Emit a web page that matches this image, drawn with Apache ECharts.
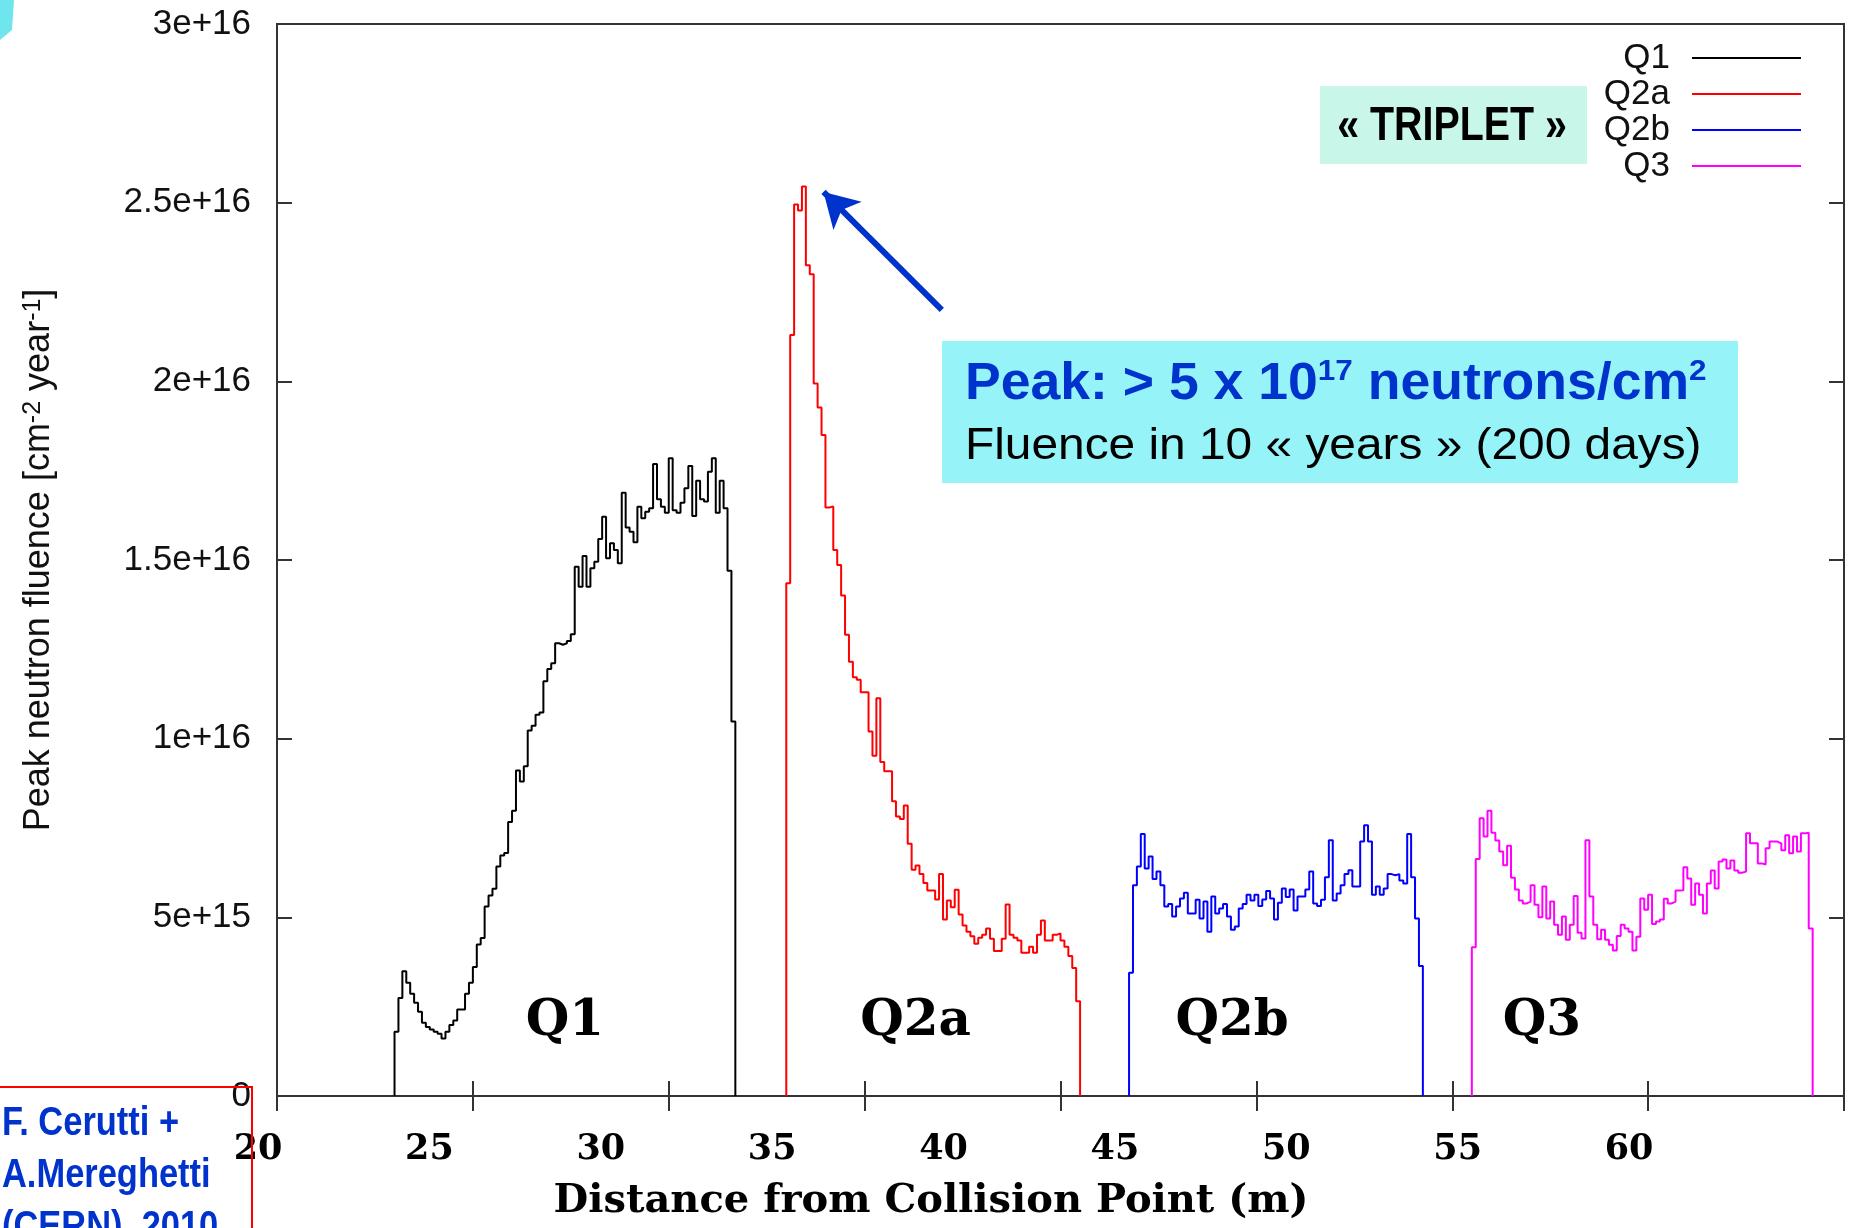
<!DOCTYPE html>
<html><head><meta charset="utf-8">
<script src="https://cdn.jsdelivr.net/npm/echarts@6/dist/echarts.min.js"></script>
<style>html,body{margin:0;padding:0;background:#fff}#c{width:1854px;height:1228px}</style>
</head><body><div id="c"></div>
<script>
// ---------- data (fluence in units of 1e15 cm^-2 year^-1, x in metres) ----------
const magnetNames = ['Q1', 'Q2a', 'Q2b', 'Q3'];
const binWidth = 0.1;
const q1Start = 23.0;
const q1Values = [1.80, 2.74, 3.49, 3.17, 2.86, 2.61, 2.36, 2.05, 1.93, 1.86,
  1.80, 1.74, 1.61, 1.80, 1.99, 2.11, 2.42, 2.42, 2.86, 3.17,
  3.61, 4.24, 4.42, 5.30, 5.61, 5.80, 6.42, 6.73, 6.80, 7.67,
  7.98, 9.11, 8.80, 9.23, 10.23, 10.36, 10.67, 10.73, 11.61, 11.95,
  12.11, 12.67, 12.63, 12.67, 12.73, 12.92,
  14.81, 14.25, 15.11, 14.25, 14.77, 14.95, 15.59, 16.21, 15.05, 15.47,
  15.28, 14.91, 16.88, 15.91, 15.79, 15.50, 16.49, 16.17, 16.35, 16.45,
  17.69, 16.70, 16.49, 16.32, 17.85, 16.39, 16.32, 16.60, 17.01, 17.63,
  16.23, 17.22, 16.70, 16.64, 17.47, 17.85, 16.32, 17.22, 16.45, 14.70,
  10.48];
const q2aStart = 33.0;
const q2aValues = [14.35, 21.30, 24.95, 24.78, 25.45, 23.25, 23.0, 19.94, 19.27, 18.50,
  16.47, 16.5, 15.28, 14.86, 14.01, 12.91, 12.15, 11.72, 11.65, 11.30,
  11.30, 10.20, 9.52, 11.13, 9.35, 9.09, 9.09, 8.25, 7.82, 7.75,
  8.13, 7.06, 6.33, 6.45, 6.21, 5.96, 5.75, 5.75, 5.50, 6.21,
  4.94, 5.47, 5.28, 5.77, 5.08, 4.77, 4.60, 4.47, 4.26, 4.43,
  4.51, 4.69, 4.40, 4.06, 4.06, 4.40, 5.36, 4.51, 4.43, 4.35,
  4.01, 4.01, 4.18, 4.01, 4.51, 4.91, 4.35, 4.35, 4.51, 4.55,
  4.35, 4.18, 3.92, 3.58, 2.65];
const q2bStart = 41.75;
const q2bValues = [3.45, 5.90, 6.42, 7.33, 6.37, 6.70, 6.07, 6.28, 5.90, 5.30,
  5.37, 5.02, 5.30, 5.53, 5.69, 5.11, 5.11, 5.49, 4.97, 5.44,
  4.60, 5.58, 5.11, 5.25, 5.37, 5.02, 4.65, 4.74, 5.25, 5.37,
  5.63, 5.47, 5.63, 5.32, 5.50, 5.74, 5.53, 4.94, 5.41, 5.81,
  5.57, 5.78, 5.19, 5.58, 5.58, 5.78, 6.28, 5.39, 5.32, 5.49,
  6.12, 7.16, 5.47, 5.67, 5.90, 6.21, 6.32, 5.86, 5.86, 7.12,
  7.58, 7.12, 5.63, 5.86, 5.63, 5.81, 6.21, 6.18, 6.21, 6.03,
  5.95, 7.33, 6.12, 4.97, 3.64];
const q3Start = 50.5;
const q3Values = [4.16, 6.63, 7.77, 7.26, 7.98, 7.37, 7.15, 6.84, 6.46, 7.00,
  6.11, 5.78, 5.47, 5.39, 5.44, 5.90, 5.35, 5.00, 5.86, 4.97,
  5.44, 4.79, 4.51, 5.02, 4.37, 4.79, 5.60, 4.57, 4.41, 7.16,
  5.58, 4.79, 4.39, 4.65, 4.37, 4.23, 4.07, 4.48, 4.79, 4.69,
  4.60, 4.07, 4.46, 5.53, 5.21, 5.63, 4.81, 4.88, 4.94, 5.52,
  5.39, 5.44, 5.75, 5.76, 6.40, 6.09, 5.35, 5.95, 5.63, 5.11,
  5.95, 6.31, 5.81, 6.56, 6.62, 6.37, 6.59, 6.31, 6.25, 6.28,
  7.35, 7.07, 7.07, 6.51, 6.48, 6.93, 7.12, 7.12, 7.07, 6.88,
  7.30, 6.79, 7.26, 6.84, 7.35, 7.37, 4.69];
const xTickLabels = ['20', '25', '30', '35', '40', '45', '50', '55', '60'];
const yTickLabels = ['0', '5e+15', '1e+16', '1.5e+16', '2e+16', '2.5e+16', '3e+16'];
// annotation anchors (data coordinates)
const labelAnchors = [[27.35, 2.07], [36.3, 2.07], [44.38, 2.07], [52.29, 2.07]];
const arrowFrom = [36.97, 22.0];
const arrowTo = [33.95, 25.3];

// ---------- styles ----------
const colors = ['#000000', '#ff0000', '#0000ff', '#ff00ff'];
const axisColor = '#333333';
const sans = '"Liberation Sans", Arial, sans-serif';
const serif = '"DejaVu Serif", serif';
const annBlue = '#0033cc';

function histSteps(start, vals) {
  const pts = [[start, 0]];
  vals.forEach((v, i) => pts.push([+(start + i * binWidth).toFixed(3), v]));
  const end = +(start + vals.length * binWidth).toFixed(3);
  pts.push([end, vals[vals.length - 1]]);
  pts.push([end, 0]);
  return pts;
}
const starts = [q1Start, q2aStart, q2bStart, q3Start];
const valueSets = [q1Values, q2aValues, q2bValues, q3Values];

const series = magnetNames.map((name, k) => {
  const s = {
    name, type: 'line', step: 'end', symbol: 'none', xAxisIndex: 0, yAxisIndex: 0,
    data: histSteps(starts[k], valueSets[k]),
    lineStyle: { color: colors[k], width: 2 }, itemStyle: { color: colors[k] },
    silent: true, z: 3,
    markPoint: {
      symbol: 'rect', symbolSize: 0, silent: true, animation: false,
      data: [{ coord: labelAnchors[k], name }],
      label: { show: true, position: 'inside', formatter: name, color: '#000',
        fontFamily: serif, fontWeight: 'bold', fontSize: 50 }
    }
  };
  if (k === 1) {
    s.markLine = {
      silent: true, animation: false, symbol: ['none', 'arrow'], symbolSize: [30, 34],
      lineStyle: { color: annBlue, width: 6, type: 'solid' }, label: { show: false },
      data: [[{ coord: arrowFrom }, { coord: arrowTo }]]
    };
  }
  return s;
});
series.push({ type: 'line', xAxisIndex: 2, yAxisIndex: 2, data: [], silent: true });

const chart = echarts.init(document.getElementById('c'), null, { renderer: 'canvas' });
const tickStyle = { color: axisColor, width: 2 };
const narrowText = (text, x, y, size, fill, align, sx) => ({
  type: 'text', x, y, z: 11, silent: true, scaleX: sx,
  style: { text, fill, font: 'bold ' + size + 'px ' + sans, align, verticalAlign: 'middle' }
});
chart.setOption({
  animation: false,
  backgroundColor: '#ffffff',
  grid: [
    { left: 277, right: 10, top: 24, bottom: 132, show: true, borderColor: axisColor, borderWidth: 2,
      containLabel: false, outerBoundsMode: 'none' },
    { left: 258, right: 225, top: 24, bottom: 132, show: false, containLabel: false, outerBoundsMode: 'none' }
  ],
  xAxis: [
    { gridIndex: 0, type: 'value', min: 20, max: 60, interval: 5, position: 'bottom',
      axisLine: { show: true, lineStyle: tickStyle }, axisTick: { show: true, inside: true, length: 15, lineStyle: tickStyle },
      axisLabel: { show: false }, splitLine: { show: false } },
    { gridIndex: 0, type: 'value', min: 20, max: 60, interval: 5, position: 'top',
      axisLine: { show: true, lineStyle: tickStyle }, axisTick: { show: true, inside: true, length: 15, lineStyle: tickStyle },
      axisLabel: { show: false }, splitLine: { show: false } },
    { gridIndex: 1, type: 'value', min: 20, max: 60, interval: 5, position: 'bottom',
      axisLine: { show: false }, axisTick: { show: false }, splitLine: { show: false },
      axisLabel: { show: true, showMinLabel: true, showMaxLabel: true, margin: 54, verticalAlign: 'middle',
        formatter: v => xTickLabels[Math.round((v - 20) / 5)],
        fontFamily: serif, fontWeight: 'bold', fontSize: 35, color: '#000' },
      name: 'Distance from Collision Point (m)', nameLocation: 'middle', nameGap: 106, nameMoveOverlap: false,
      nameTextStyle: { fontFamily: serif, fontWeight: 'bold', fontSize: 40, color: '#000',
        verticalAlign: 'middle', padding: [0, 25, 0, 0] } }
  ],
  yAxis: [
    { gridIndex: 0, type: 'value', min: 0, max: 30, interval: 5, position: 'left',
      axisLine: { show: true, lineStyle: tickStyle }, axisTick: { show: true, inside: true, length: 15, lineStyle: tickStyle },
      splitLine: { show: false },
      axisLabel: { show: true, showMinLabel: true, showMaxLabel: true, margin: 26,
        formatter: v => yTickLabels[Math.round(v / 5)], fontFamily: sans, fontSize: 35, color: '#111' },
      name: 'Peak neutron fluence [cm{sup|-2} year{sup|-1}]', nameLocation: 'middle', nameGap: 220, nameMoveOverlap: false,
      nameTextStyle: { fontFamily: sans, fontSize: 36, color: '#111',
        rich: { sup: { fontFamily: sans, fontSize: 25, lineHeight: 25, verticalAlign: 'top', color: '#111' } } } },
    { gridIndex: 0, type: 'value', min: 0, max: 30, interval: 5, position: 'right',
      axisLine: { show: true, lineStyle: tickStyle }, axisTick: { show: true, inside: true, length: 15, lineStyle: tickStyle },
      axisLabel: { show: false }, splitLine: { show: false } },
    { gridIndex: 1, type: 'value', min: 0, max: 1, show: false }
  ],
  legend: {
    data: magnetNames, orient: 'vertical', right: 53, top: 40, padding: 0, itemGap: 0, align: 'right',
    icon: 'rect', itemWidth: 109, itemHeight: 2, selectedMode: false,
    textStyle: { fontFamily: sans, fontSize: 35, lineHeight: 36, color: '#111', padding: [0, 17, 0, 0] }
  },
  graphic: [
    { type: 'polygon', shape: { points: [[0, 0], [14, 0], [12, 30], [0, 40]] }, style: { fill: '#6fe6ee' }, silent: true },
    { type: 'rect', shape: { x: 1320, y: 86, width: 267, height: 78 }, style: { fill: '#c8f7e9' }, z: 10, silent: true },
    narrowText('« TRIPLET »', 1452, 127, 48, '#000', 'center', 0.82),
    { type: 'rect', shape: { x: 942, y: 341, width: 796, height: 142 }, style: { fill: '#96f4f8' }, z: 10, silent: true },
    { type: 'text', x: 965, y: 385, z: 11, silent: true, scaleX: 1.05,
      style: { text: '{b|Peak: > 5 x 10}{s|17}{b| neutrons/cm}{s|2}', align: 'left', verticalAlign: 'middle',
        rich: { b: { fontFamily: sans, fontWeight: 'bold', fontSize: 51, lineHeight: 56, fill: annBlue, color: annBlue },
                s: { fontFamily: sans, fontWeight: 'bold', fontSize: 30, lineHeight: 30, verticalAlign: 'top', fill: annBlue, color: annBlue } } } },
    { type: 'text', x: 965, y: 447, z: 11, silent: true, scaleX: 1.063,
      style: { text: 'Fluence in 10 « years » (200 days)', fill: '#000', font: '45px ' + sans, align: 'left', verticalAlign: 'middle' } },
    { type: 'rect', shape: { x: -4, y: 1087, width: 256, height: 160 }, style: { fill: 'none', stroke: '#ff0000', lineWidth: 2 }, z: 10, silent: true },
    narrowText('F. Cerutti +', 2, 1124, 41, annBlue, 'left', 0.84),
    narrowText('A.Mereghetti', 2, 1176, 41, annBlue, 'left', 0.84),
    narrowText('(CERN), 2010', 2, 1228, 41, annBlue, 'left', 0.84)
  ],
  series
});
</script></body></html>
